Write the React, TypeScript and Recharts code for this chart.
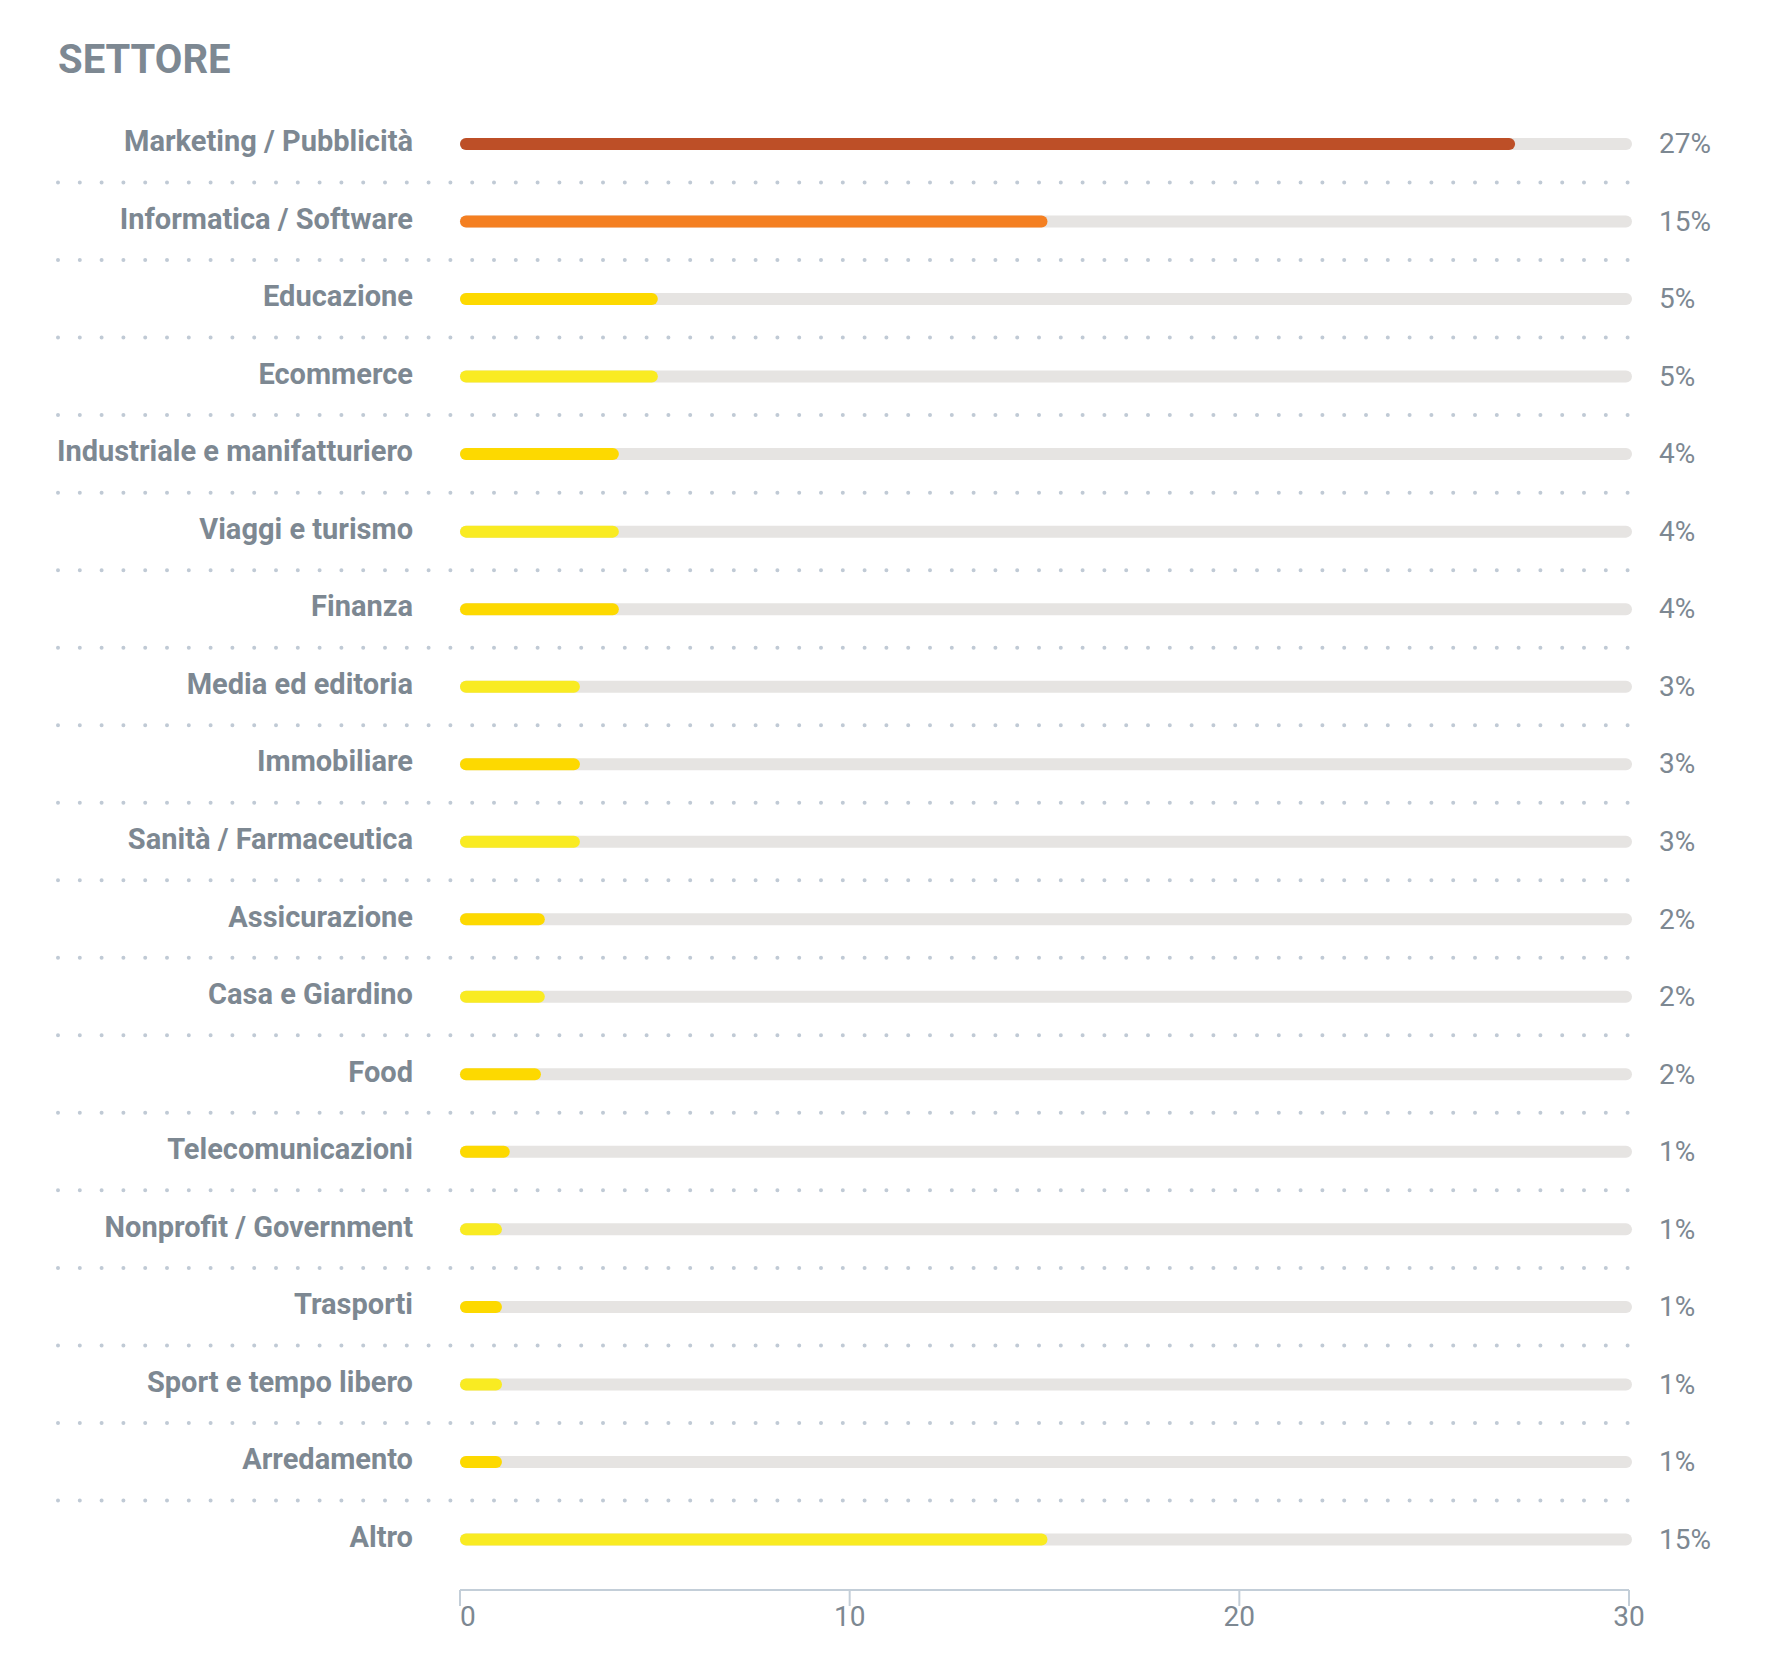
import React from "react"
import { Bar, BarChart, Cell, XAxis, YAxis } from "recharts"

const CATEGORIES = [
  "Marketing / Pubblicità",
  "Informatica / Software",
  "Educazione",
  "Ecommerce",
  "Industriale e manifatturiero",
  "Viaggi e turismo",
  "Finanza",
  "Media ed editoria",
  "Immobiliare",
  "Sanità / Farmaceutica",
  "Assicurazione",
  "Casa e Giardino",
  "Food",
  "Telecomunicazioni",
  "Nonprofit / Government",
  "Trasporti",
  "Sport e tempo libero",
  "Arredamento",
  "Altro",
]
const VALUES = [27, 15, 5, 5, 4, 4, 4, 3, 3, 3, 2.1, 2.1, 2, 1.2, 1, 1, 1, 1, 15]
const PCT_LABELS = [
  "27%", "15%", "5%", "5%", "4%", "4%", "4%", "3%", "3%", "3%",
  "2%", "2%", "2%", "1%", "1%", "1%", "1%", "1%", "15%",
]
const X_TICKS = [0, 10, 20, 30]

const DARK = "#bd4f27"
const ORANGE = "#f47f21"
const GOLD = "#fdd900"
const LEMON = "#f9eb22"
const BAR_COLORS = [
  DARK, ORANGE, GOLD, LEMON, GOLD, LEMON, GOLD, LEMON, GOLD, LEMON,
  GOLD, LEMON, GOLD, GOLD, LEMON, GOLD, LEMON, GOLD, LEMON,
]

const FONT = "Roboto, 'Noto Sans', sans-serif"
const TEXT = "#7d8892"
const TRACK = "#e6e4e2"
const AXIS = "#c3ced8"
const DOTS = "#c0cad5"

const data = CATEGORIES.map((name, i) => ({
  name,
  value: VALUES[i],
  pct: PCT_LABELS[i],
}))

function CategoryTick(props: any) {
  const { x, y, payload, index } = props
  const half = payload?.offset ?? 38.8
  return (
    <g>
      <text
        x={x - 47}
        y={y + 7.5}
        textAnchor="end"
        fill={TEXT}
        fontSize={29}
        fontWeight={700}
        fontFamily={FONT}
      >
        {payload.value}
      </text>
      {index < CATEGORIES.length - 1 && (
        <line
          x1={58}
          x2={1632}
          y1={y + half}
          y2={y + half}
          stroke={DOTS}
          strokeWidth={4}
          strokeLinecap="round"
          strokeDasharray="0 21.8"
        />
      )}
    </g>
  )
}

function PctTick(props: any) {
  const { x, y, index } = props
  return (
    <text x={x} y={y + 9.5} textAnchor="start" fill={TEXT} fontSize={28} fontFamily={FONT}>
      {PCT_LABELS[index]}
    </text>
  )
}

function ValueTick(props: any) {
  const { x, y, payload, index } = props
  return (
    <text
      x={x}
      y={y + 20}
      textAnchor={index === 0 ? "start" : "middle"}
      fill={TEXT}
      fontSize={28}
      fontFamily={FONT}
    >
      {payload.value}
    </text>
  )
}

function Track(props: any) {
  const { x, y, width, height } = props
  return <rect x={x} y={y} width={width + 3} height={height} rx={height / 2} fill={TRACK} />
}

function RoundBar(props: any) {
  const { x, y, width, height, fill } = props
  if (!width || width <= 0) return null
  return <rect x={x} y={y} width={width + 3} height={height} rx={height / 2} fill={fill} />
}

export default function App() {
  return (
    <div
      style={{
        position: "absolute",
        left: 0,
        top: 0,
        width: 1770,
        height: 1680,
        background: "#fff",
      }}
    >
      <div
        style={{
          position: "absolute",
          left: 58,
          top: 36,
          fontFamily: FONT,
          fontSize: 40,
          fontWeight: 700,
          color: TEXT,
          lineHeight: "normal",
        }}
      >
        SETTORE
      </div>
      <BarChart
        width={1770}
        height={1680}
        data={data}
        layout="vertical"
        margin={{ top: 105, right: 0, bottom: 30, left: 0 }}
        barSize={12}
      >
        <XAxis
          type="number"
          domain={[0, 30]}
          ticks={X_TICKS}
          height={60}
          axisLine={{ stroke: AXIS, strokeWidth: 2 }}
          tickLine={{ stroke: AXIS, strokeWidth: 2 }}
          tickSize={16}
          tickMargin={0}
          tick={<ValueTick />}
        />
        <YAxis
          yAxisId="left"
          type="category"
          dataKey="name"
          width={460}
          padding={{ top: 0, bottom: 12 }}
          axisLine={false}
          tickLine={false}
          tickSize={0}
          tickMargin={0}
          interval={0}
          tick={<CategoryTick />}
        />
        <YAxis
          yAxisId="right"
          orientation="right"
          type="category"
          dataKey="name"
          width={141}
          padding={{ top: 0, bottom: 12 }}
          axisLine={false}
          tickLine={false}
          tickSize={0}
          tickMargin={30}
          interval={0}
          tick={<PctTick />}
        />
        <Bar
          yAxisId="left"
          dataKey="value"
          background={<Track />}
          shape={<RoundBar />}
          isAnimationActive={false}
        >
          {data.map((d, i) => (
            <Cell key={d.name} fill={BAR_COLORS[i]} />
          ))}
        </Bar>
      </BarChart>
    </div>
  )
}
